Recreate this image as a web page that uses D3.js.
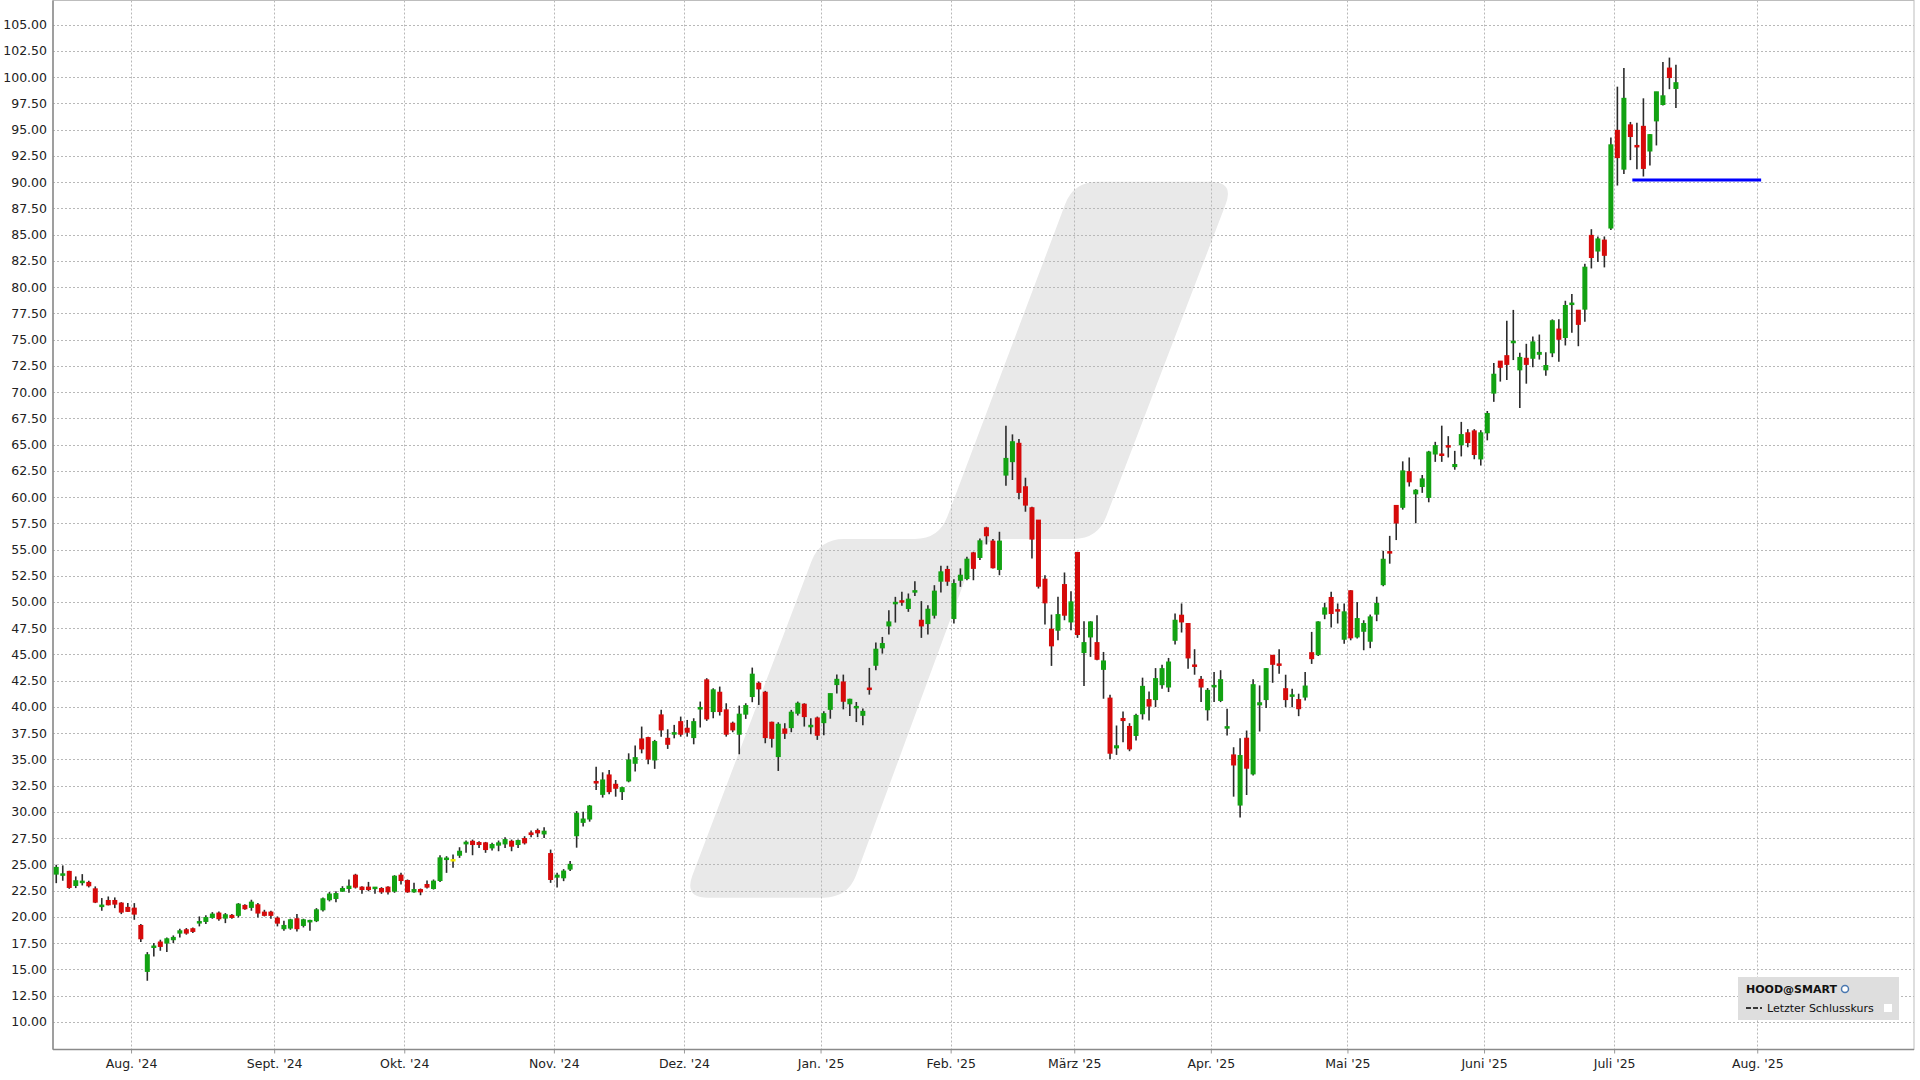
<!DOCTYPE html>
<html>
<head>
<meta charset="utf-8">
<script src="https://cdn.jsdelivr.net/npm/d3@7/dist/d3.min.js"></script>
<style>
html,body{margin:0;padding:0;background:#fff;}
svg{display:block;}
text{font-family:"DejaVu Sans",Verdana,sans-serif;}
</style>
</head>
<body>
<svg id="chart" width="1920" height="1080"></svg>
<script>
// ---- DATA (trading-day slots, slot 0 = 16 Jul 2024) ----
const opens = [24.07,24.00,24.33,22.99,23.30,23.28,22.67,21.05,21.56,21.56,21.31,20.90,20.83,19.18,14.80,17.10,17.60,17.50,17.82,18.45,18.77,18.87,19.45,19.56,19.94,20.36,19.88,20.14,20.14,21.09,20.90,21.15,20.45,20.45,19.88,18.87,18.93,19.82,19.18,19.58,19.63,20.67,21.63,21.75,
22.44,22.70,23.97,22.83,22.83,22.70,22.70,22.83,22.44,23.97,23.46,22.38,22.60,23.08,22.70,23.46,25.50,25.46,25.87,26.95,27.20,27.08,27.05,26.57,26.83,26.95,27.20,26.89,27.46,28.00,28.22,27.90,26.03,23.78,
23.72,24.55,27.73,29.00,29.32,32.90,31.67,33.52,32.63,31.93,32.95,34.63,36.95,37.08,34.95,39.24,37.01,37.45,38.60,37.97,37.08,39.80,42.58,39.56,41.40,39.72,38.45,37.40,39.31,40.99,42.26,41.40,38.54,35.27,37.90,38.03,39.40,40.26,38.15,38.95,38.50,
39.77,42.13,42.38,40.30,39.95,39.20,41.80,43.97,45.63,47.72,49.87,50.12,49.38,50.98,48.26,47.94,48.74,51.98,53.10,48.42,52.07,52.23,54.68,54.24,57.07,55.80,53.10,62.09,63.37,65.12,60.98,58.98,57.80,52.17,47.40,47.31,51.66,48.10,54.72,45.18,46.67,46.13,
43.58,40.84,36.10,38.90,38.14,37.28,39.35,40.70,40.70,42.12,41.90,46.35,48.74,47.95,44.00,42.63,39.73,41.95,40.62,38.00,35.43,30.65,37.02,33.62,40.20,40.70,44.92,44.10,41.74,41.05,40.70,40.94,45.17,44.98,48.84,50.43,49.27,46.45,51.07,46.67,47.21,46.26,48.84,
51.65,54.80,59.20,59.02,62.42,60.30,61.00,59.96,64.10,64.10,64.90,62.90,64.98,66.12,66.30,63.63,66.12,69.90,72.95,73.47,74.70,72.12,73.22,73.22,73.60,72.12,73.74,76.00,75.20,78.35,77.80,77.90,84.93,83.44,84.48,85.63,94.94,91.24,95.46,93.50,95.32,92.97,95.84,97.40,100.87,98.93];
const highs = [24.96,24.90,24.39,23.85,24.07,23.44,22.90,21.79,21.94,21.85,21.40,21.31,21.31,19.31,16.64,17.50,17.82,18.04,18.23,18.87,18.93,18.99,20.04,20.14,20.45,20.52,20.36,20.26,21.31,21.21,21.63,21.31,20.67,20.58,20.04,19.63,19.82,20.26,19.82,19.72,20.83,21.85,22.36,22.44,
22.92,23.56,24.10,22.92,23.33,22.83,22.83,22.92,23.97,24.19,23.56,23.24,22.70,23.46,23.56,25.87,25.78,25.94,26.63,27.27,27.36,27.20,27.14,27.05,27.27,27.59,27.36,27.36,27.68,28.22,28.41,28.54,26.41,24.19,
24.55,25.31,30.08,30.02,30.66,34.31,33.77,34.00,33.04,32.40,35.58,36.32,38.13,37.17,36.86,39.72,37.87,38.29,39.08,38.76,38.92,40.51,42.74,41.78,41.94,40.35,38.60,40.13,40.35,43.75,42.42,41.53,38.60,38.54,38.45,39.72,40.51,40.35,38.92,39.08,39.58,
41.27,43.08,43.08,40.79,40.47,39.84,43.72,46.13,46.67,49.22,50.49,50.97,50.81,51.98,50.08,49.70,51.60,53.45,53.45,52.17,53.20,54.30,54.78,56.05,57.17,55.99,56.69,66.80,65.97,65.53,61.84,59.07,57.80,52.55,48.80,50.49,52.81,51.03,54.78,48.17,48.17,48.74,
45.24,41.16,38.23,39.57,38.45,39.35,42.79,41.48,43.70,44.03,44.67,48.90,49.86,47.95,45.50,42.95,41.80,43.33,43.50,39.83,36.16,37.02,37.75,42.63,42.05,43.71,44.92,45.50,43.07,41.74,41.26,43.33,47.15,48.17,49.92,50.97,49.86,49.86,51.13,50.00,48.26,48.80,50.50,
54.87,56.30,59.20,63.40,63.77,60.75,62.10,64.40,65.26,66.80,65.80,64.40,67.16,66.47,66.47,66.37,68.20,72.77,72.95,76.80,77.83,73.74,74.60,75.30,75.48,73.80,76.93,76.93,78.70,79.35,77.80,82.23,85.52,84.83,84.83,94.25,99.10,100.87,95.74,95.67,97.99,94.60,98.61,101.45,101.87,101.20];
const lows = [23.21,23.44,22.67,22.74,22.99,22.80,21.31,20.58,21.09,20.83,20.26,20.45,19.72,17.60,13.91,16.23,16.77,16.64,17.50,18.04,18.30,18.45,19.09,19.31,19.82,19.63,19.40,19.82,19.94,20.67,20.58,19.94,20.04,19.82,19.09,18.67,18.77,18.61,18.99,18.67,19.50,20.52,21.47,21.40,
22.38,22.29,22.70,22.19,22.44,22.19,22.19,22.13,22.29,23.08,22.29,22.29,22.06,22.70,22.60,23.33,24.19,24.67,25.62,26.10,25.87,26.57,26.10,26.32,26.25,26.57,26.25,26.57,26.89,27.59,27.59,27.52,23.24,22.80,
23.40,24.36,26.59,28.60,29.07,32.09,31.36,31.67,31.45,31.13,32.82,33.84,35.58,34.54,34.10,37.17,36.00,37.01,37.17,37.17,36.44,38.04,38.67,38.92,39.18,37.17,37.59,35.49,38.86,40.45,40.19,36.54,36.13,33.90,36.95,37.59,39.18,38.13,37.40,36.86,37.30,
38.88,41.27,39.77,39.14,38.56,38.25,41.17,43.49,45.08,46.90,48.04,49.63,49.06,50.58,46.58,46.90,48.42,50.90,51.54,47.94,51.44,52.07,52.07,53.99,55.48,53.20,52.55,61.08,61.62,59.80,58.60,54.14,51.28,47.85,43.91,46.36,48.26,47.31,46.58,42.00,44.77,44.44,
40.78,35.05,35.43,36.64,35.78,36.80,38.80,38.70,39.98,41.74,41.42,45.94,47.09,43.65,43.07,40.46,38.70,40.46,40.46,37.28,31.45,29.47,31.61,33.46,37.66,39.90,42.30,43.17,39.98,39.98,39.12,40.62,44.10,44.86,48.36,47.56,47.95,46.03,46.35,46.51,45.40,45.60,48.17,
51.50,53.65,55.90,58.80,61.00,57.50,60.40,59.50,63.35,63.35,63.77,62.60,63.87,64.74,63.60,63.00,65.40,69.07,71.00,71.15,73.05,68.48,70.80,72.36,73.10,71.56,73.33,72.88,74.44,75.65,74.37,76.70,81.78,82.40,81.88,85.45,89.68,90.79,92.10,91.24,90.54,91.60,93.50,97.30,98.86,97.06];
const closes = [24.71,24.10,22.80,23.44,23.40,22.96,21.40,21.12,21.15,21.21,20.45,20.52,20.26,17.91,16.39,17.22,17.18,17.91,18.04,18.67,18.45,18.61,19.55,19.94,20.26,19.82,20.20,19.94,21.21,20.77,21.40,20.36,20.14,20.14,19.40,19.18,19.72,18.87,19.72,19.66,20.67,21.72,22.17,22.22,
22.70,22.92,22.83,22.60,22.60,22.83,22.38,22.38,23.87,23.46,22.38,22.60,22.38,22.83,23.40,25.62,25.60,25.46,26.25,27.11,26.89,26.89,26.41,26.89,27.05,27.36,26.73,27.27,27.05,27.84,28.00,28.16,23.56,23.97,
24.36,25.00,29.86,29.32,30.56,32.75,33.04,31.93,32.25,32.31,34.95,35.17,36.00,35.04,36.70,37.81,36.44,37.55,37.40,37.59,38.60,39.95,38.86,41.63,39.56,37.40,37.81,39.31,40.13,43.12,41.72,37.08,37.01,38.35,37.49,39.50,40.35,39.08,38.25,37.30,39.36,
41.27,42.63,40.54,40.73,40.05,39.58,41.70,45.50,46.04,48.10,49.97,50.04,50.27,51.08,47.72,49.31,51.03,52.87,51.98,51.76,52.55,54.08,53.20,55.83,56.31,53.26,55.80,63.68,65.27,60.44,59.23,55.99,51.50,49.92,45.82,48.80,48.74,50.01,46.90,46.13,48.10,44.54,
44.38,35.59,36.30,38.70,36.00,39.19,41.96,40.08,42.70,43.65,44.28,48.26,48.10,44.67,43.90,41.90,41.58,42.05,42.60,38.12,34.47,35.37,34.16,42.12,40.40,43.65,44.06,44.00,40.70,41.15,39.83,41.99,44.60,48.10,49.44,48.90,49.17,49.06,46.58,48.42,47.95,48.58,49.86,
54.07,54.72,57.53,62.49,61.45,60.65,61.73,64.29,64.90,64.00,64.80,63.10,65.95,65.19,64.05,66.12,67.96,71.70,72.36,72.64,74.85,73.30,72.64,74.78,73.78,72.53,76.80,75.03,78.25,78.48,76.45,81.90,82.82,84.59,83.03,93.56,92.34,97.99,94.35,93.38,91.31,94.53,98.61,98.23,99.97,99.48];

const monthLabels = ["Aug. '24","Sept. '24","Okt. '24","Nov. '24","Dez. '24","Jan. '25","Feb. '25","März '25","Apr. '25","Mai '25","Juni '25","Juli '25","Aug. '25"];
const monthSlots  = [12,34,54,77,97,118,138,157,178,199,220,240,262];
const yTickValues = [10,12.5,15,17.5,20,22.5,25,27.5,30,32.5,35,37.5,40,42.5,45,47.5,50,52.5,55,57.5,60,62.5,65,67.5,70,72.5,75,77.5,80,82.5,85,87.5,90,92.5,95,97.5,100,102.5,105];
const levelLine = {value: 90.2, from: 242.8, to: 262.6};
const slotDomain = [0, 286.1];
const priceDomain = [7.36, 107.31];

// ---- LAYOUT ----
const W = 1920, H = 1080;
const L = 53, R = 1914, T = 0.5, B = 1049.5;
const svg = d3.select("#chart");
svg.append("rect").attr("width",W).attr("height",H).attr("fill","#fff");

const x = d3.scaleLinear().domain(slotDomain).range([L, R]);
const y = d3.scaleLinear().domain(priceDomain).range([B, T]);

// watermark shape (rounded polygon)
function roundedPath(pts, r){
  const n = pts.length; let d = "";
  for(let i=0;i<n;i++){
    const p0 = pts[(i-1+n)%n], p1 = pts[i], p2 = pts[(i+1)%n];
    const v1 = [p0[0]-p1[0], p0[1]-p1[1]], v2 = [p2[0]-p1[0], p2[1]-p1[1]];
    const l1 = Math.hypot(...v1), l2 = Math.hypot(...v2);
    const rr = Math.min(r, l1/2, l2/2);
    const a = [p1[0]+v1[0]/l1*rr, p1[1]+v1[1]/l1*rr];
    const b = [p1[0]+v2[0]/l2*rr, p1[1]+v2[1]/l2*rr];
    d += (i===0 ? "M" : "L") + a[0] + "," + a[1] + "Q" + p1[0] + "," + p1[1] + " " + b[0] + "," + b[1];
  }
  return d + "Z";
}
const wmSlots  = [97.0, 117.9, 136.2, 156.9, 181.6, 160.6, 142.5, 122.2];
const wmPrices = [21.83, 56.0, 56.0, 90.03, 90.03, 56.0, 56.0, 21.83];
const wmPts = wmSlots.map((s,i)=>[x(s), y(wmPrices[i])]);
svg.append("path").attr("d", roundedPath(wmPts, 24)).attr("fill","#e9e9e9");

// grid
const g = svg.append("g");
g.selectAll("line.hg").data(yTickValues).join("line")
  .attr("x1",L).attr("x2",R).attr("y1",d=>Math.round(y(d))+0.5).attr("y2",d=>Math.round(y(d))+0.5)
  .attr("stroke","#b8b8b8").attr("stroke-width",1).attr("stroke-dasharray","2,2");
g.selectAll("line.vg").data(monthSlots).join("line")
  .attr("x1",d=>Math.round(x(d))+0.5).attr("x2",d=>Math.round(x(d))+0.5).attr("y1",T).attr("y2",B)
  .attr("stroke","#b8b8b8").attr("stroke-width",1).attr("stroke-dasharray","2,2");

// axes
const yAxis = d3.axisLeft(y).tickValues(yTickValues).tickFormat(d3.format(".2f")).tickSize(0).tickPadding(6);
const ya = svg.append("g").attr("transform",`translate(${L},0)`).call(yAxis);
ya.select(".domain").remove();
ya.selectAll("text").attr("font-size","12.5px").attr("fill","#222").attr("font-family","DejaVu Sans");

const xAxis = d3.axisBottom(x).tickValues(monthSlots).tickFormat((d,i)=>monthLabels[i]).tickSize(4).tickPadding(6);
const xa = svg.append("g").attr("transform",`translate(0,${B})`).call(xAxis);
xa.select(".domain").remove();
xa.selectAll(".tick line").attr("stroke","#999");
xa.selectAll("text").attr("font-size","12.5px").attr("fill","#222").attr("font-family","DejaVu Sans");

// frame
svg.append("rect").attr("x",L).attr("y",T).attr("width",R-L).attr("height",B-T)
  .attr("fill","none").attr("stroke","#bdbdbd").attr("stroke-width",1);
svg.append("line").attr("x1",L).attr("x2",L).attr("y1",T).attr("y2",B).attr("stroke","#8a8a8a").attr("stroke-width",1.5);
svg.append("line").attr("x1",L).attr("x2",R).attr("y1",B).attr("y2",B).attr("stroke","#8a8a8a").attr("stroke-width",1.5);

// candles
const candles = opens.map((o,i)=>({i, o, h:highs[i], l:lows[i], c:closes[i]}));
const bw = 5;
const cg = svg.append("g");
cg.selectAll("line.wick").data(candles).join("line")
  .attr("x1",d=>x(d.i+0.5)).attr("x2",d=>x(d.i+0.5))
  .attr("y1",d=>y(d.h)).attr("y2",d=>y(d.l))
  .attr("stroke","#2b2b2b").attr("stroke-width",1.6);
const col = d => d.c > d.o ? "#12a212" : (d.c < d.o ? "#d60a0a" : "#f2e600");
cg.selectAll("rect.body").data(candles).join("rect")
  .attr("x",d=>x(d.i+0.5)-bw/2).attr("width",bw)
  .attr("y",d=>Math.min(y(d.o),y(d.c))-0.5)
  .attr("height",d=>Math.max(Math.abs(y(d.o)-y(d.c)),1.5)+1)
  .attr("fill",col);

// level line
svg.append("line").attr("x1",x(levelLine.from)).attr("x2",x(levelLine.to))
  .attr("y1",y(levelLine.value)).attr("y2",y(levelLine.value))
  .attr("stroke","#0000ff").attr("stroke-width",3);

// legend
const lg = svg.append("g");
lg.append("rect").attr("x",1738).attr("y",977).attr("width",161).attr("height",43).attr("fill","#dedede");
lg.append("text").attr("x",1746).attr("y",993).attr("font-size","11px").attr("font-weight","bold").attr("fill","#111").text("HOOD@SMART");
lg.append("circle").attr("cx",1845).attr("cy",989).attr("r",3.5).attr("fill","#fff").attr("stroke","#4a78b0").attr("stroke-width",1.5);
lg.append("line").attr("x1",1746).attr("x2",1762).attr("y1",1008).attr("y2",1008).attr("stroke","#000").attr("stroke-width",1.5).attr("stroke-dasharray","5,2");
lg.append("text").attr("x",1767).attr("y",1012).attr("font-size","11px").attr("fill","#111").text("Letzter Schlusskurs");
lg.append("rect").attr("x",1884).attr("y",1004).attr("width",8).attr("height",8).attr("fill","#fff");
</script>
</body>
</html>
